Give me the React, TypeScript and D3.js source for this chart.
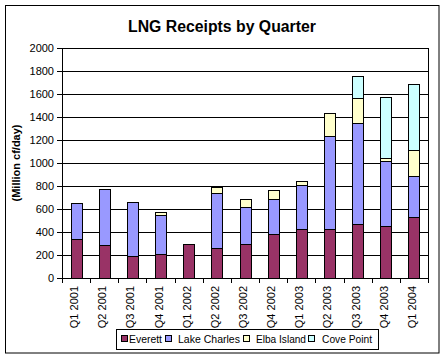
import React from "react";
import * as d3 from "d3";

const categories = ["Q1 2001","Q2 2001","Q3 2001","Q4 2001","Q1 2002","Q2 2002","Q3 2002","Q4 2002","Q1 2003","Q2 2003","Q3 2003","Q4 2003","Q1 2004"];
const everett = [335, 284, 189, 206, 293, 258, 293, 380, 423, 423, 467, 449, 528];
const lakeCharles = [315, 487, 469, 339, 0, 478, 327, 304, 383, 809, 878, 565, 356];
const elbaIsland = [0, 0, 0, 29, 0, 53, 64, 78, 35, 200, 217, 29, 226];
const covePoint = [0, 0, 0, 0, 0, 0, 0, 0, 0, 0, 192, 528, 577];
const seriesNames = ["Everett", "Lake Charles", "Elba Island", "Cove Point"];
const seriesColors = ["#993366", "#9999FF", "#FFFFCC", "#CCFFFF"];
const yTicks = [0, 200, 400, 600, 800, 1000, 1200, 1400, 1600, 1800, 2000];

export default function App() {
  const W = 446, H = 359;
  const left = 62, right = 428, top = 48, bottom = 278;
  const x = d3.scaleBand().domain(categories).range([left, right]).paddingInner(0.61).paddingOuter(0.305);
  const xb = d3.scaleBand().domain(categories).range([left, right]);
  const y = d3.scaleLinear().domain([0, 2000]).range([bottom, top]);
  const rows = categories.map((c, i) => ({ cat: c, Everett: everett[i], "Lake Charles": lakeCharles[i], "Elba Island": elbaIsland[i], "Cove Point": covePoint[i] }));
  const stacked = d3.stack().keys(seriesNames)(rows as any);
  const font = "Arial, 'Liberation Sans', sans-serif";
  const legendItems = [
    { sq: 121, tx: 129, len: 33 },
    { sq: 165, tx: 178, len: 62 },
    { sq: 243, tx: 256, len: 50 },
    { sq: 308, tx: 322, len: 50 },
  ];
  return (
    <svg width={W} height={H} style={{ position: "absolute", left: 0, top: 0 }} fontFamily={font}>
      <rect x={0} y={0} width={W} height={H} fill="#fff" />
      <rect x={5.5} y={5.5} width={433.5} height={347.5} fill="none" stroke="#000" strokeWidth={1} />
      <text x={222} y={32} textAnchor="middle" fontSize={15.8} fontWeight="bold">LNG Receipts by Quarter</text>
      {yTicks.map(t => (
        <g key={t}>
          {t > 0 && <line x1={left} x2={right} y1={Math.round(y(t)) + 0.5} y2={Math.round(y(t)) + 0.5} stroke="#000" />}
          <line x1={left - 5} x2={left} y1={Math.round(y(t)) + 0.5} y2={Math.round(y(t)) + 0.5} stroke="#000" />
          <text x={54} y={y(t) + 4} textAnchor="end" fontSize={11}>{t}</text>
        </g>
      ))}
      <rect x={left + 0.5} y={top + 0.5} width={right - left} height={bottom - top} fill="none" stroke="#000" />
      {stacked.map((s, si) => (
        <g key={si}>
          {s.map((d, i) => d[1] - d[0] > 0 ? (
            <rect key={i} x={Math.round(x(categories[i])!) + 0.5} width={Math.round(x.bandwidth())}
              y={Math.round(y(d[1])) + 0.5} height={Math.round(y(d[0])) - Math.round(y(d[1]))}
              fill={seriesColors[si]} stroke="#000" strokeWidth={1} />
          ) : null)}
        </g>
      ))}
      <line x1={left} x2={right + 1} y1={bottom + 0.5} y2={bottom + 0.5} stroke="#000" />
      {categories.map((c, i) => (
        <line key={c} x1={Math.round(xb(c)!) + 0.5} x2={Math.round(xb(c)!) + 0.5} y1={bottom} y2={bottom + 5} stroke="#000" />
      ))}
      <line x1={right + 0.5} x2={right + 0.5} y1={bottom} y2={bottom + 5} stroke="#000" />
      {categories.map(c => {
        const cx = xb(c)! + xb.bandwidth() / 2 + 2;
        return <text key={c} transform={`translate(${cx},${286}) rotate(-90)`} textAnchor="end" fontSize={11}>{c}</text>;
      })}
      <text transform={`translate(20,${(top + bottom) / 2}) rotate(-90)`} textAnchor="middle" fontSize={11} fontWeight="bold">(Million cf/day)</text>
      <rect x={116.5} y={329.5} width={262} height={20} fill="#fff" stroke="#000" />
      {seriesNames.map((n, i) => (
        <g key={n}>
          <rect x={legendItems[i].sq + 0.5} y={335.5} width={6} height={6} fill={seriesColors[i]} stroke="#000" />
          <text x={legendItems[i].tx} y={342.5} fontSize={11} textLength={legendItems[i].len} lengthAdjust="spacingAndGlyphs">{n}</text>
        </g>
      ))}
    </svg>
  );
}
